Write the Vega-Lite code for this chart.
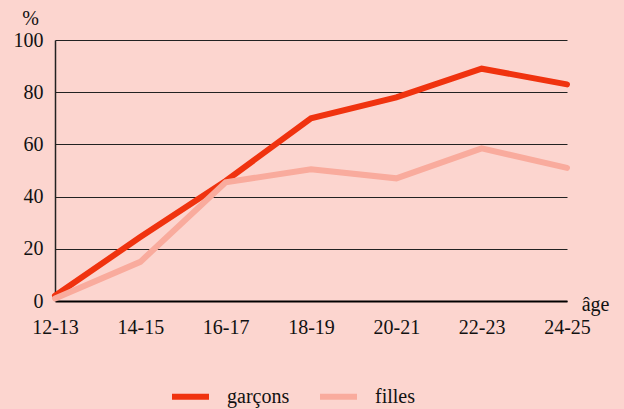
{
  "$schema": "https://vega.github.io/schema/vega-lite/v6.json",
  "width": 512,
  "height": 261,
  "autosize": {"type": "none"},
  "padding": {"left": 55, "top": 40, "right": 57, "bottom": 108},
  "background": "#fcd5cf",
  "config": {
    "view": {"stroke": null},
    "font": "Liberation Serif",
    "axis": {"labelFont": "Liberation Serif", "titleFont": "Liberation Serif", "labelColor": "#111", "titleColor": "#111", "labelFontSize": 20, "titleFontSize": 20, "titleFontWeight": "normal"},
    "legend": {"labelFont": "Liberation Serif", "labelFontSize": 20, "labelColor": "#111"}
  },
  "data": {
    "values": [
      {"age": "12-13", "serie": "garçons", "v": 2},
      {"age": "14-15", "serie": "garçons", "v": 24.5},
      {"age": "16-17", "serie": "garçons", "v": 46},
      {"age": "18-19", "serie": "garçons", "v": 70},
      {"age": "20-21", "serie": "garçons", "v": 78},
      {"age": "22-23", "serie": "garçons", "v": 89},
      {"age": "24-25", "serie": "garçons", "v": 83},
      {"age": "12-13", "serie": "filles", "v": 1},
      {"age": "14-15", "serie": "filles", "v": 15},
      {"age": "16-17", "serie": "filles", "v": 45.5},
      {"age": "18-19", "serie": "filles", "v": 50.5},
      {"age": "20-21", "serie": "filles", "v": 47},
      {"age": "22-23", "serie": "filles", "v": 58.5},
      {"age": "24-25", "serie": "filles", "v": 51}
    ]
  },
  "mark": {"type": "line", "strokeWidth": 6, "strokeCap": "round", "strokeJoin": "miter"},
  "encoding": {
    "x": {
      "field": "age", "type": "ordinal",
      "scale": {"type": "point", "padding": 0},
      "axis": {"title": "âge", "titleX": 540, "titleY": 9, "titleAlign": "center", "titleBaseline": "alphabetic", "labelAngle": 0, "ticks": false, "grid": false, "domainColor": "#000", "domainWidth": 2, "labelPadding": 16}
    },
    "y": {
      "field": "v", "type": "quantitative",
      "scale": {"domain": [0, 100], "nice": false},
      "axis": {"title": "%", "titleAngle": 0, "titleX": -25, "titleY": -16, "titleAlign": "center", "titleBaseline": "alphabetic", "values": [0, 20, 40, 60, 80, 100], "ticks": false, "grid": true, "gridColor": "#222", "gridWidth": 1, "domainColor": "#222", "domainWidth": 1.5, "labelPadding": 12, "labelBaseline": "middle"}
    },
    "color": {
      "field": "serie", "type": "nominal",
      "scale": {"domain": ["garçons", "filles"], "range": ["#f0330f", "#f9ab9d"]},
      "legend": {"title": null, "orient": "none", "direction": "horizontal", "legendX": 114, "legendY": 335, "symbolType": "stroke", "symbolSize": 1369, "symbolStrokeWidth": 6, "labelOffset": 15, "columnPadding": 18}
    },
    "order": {"field": "serie", "sort": "ascending"}
  }
}
